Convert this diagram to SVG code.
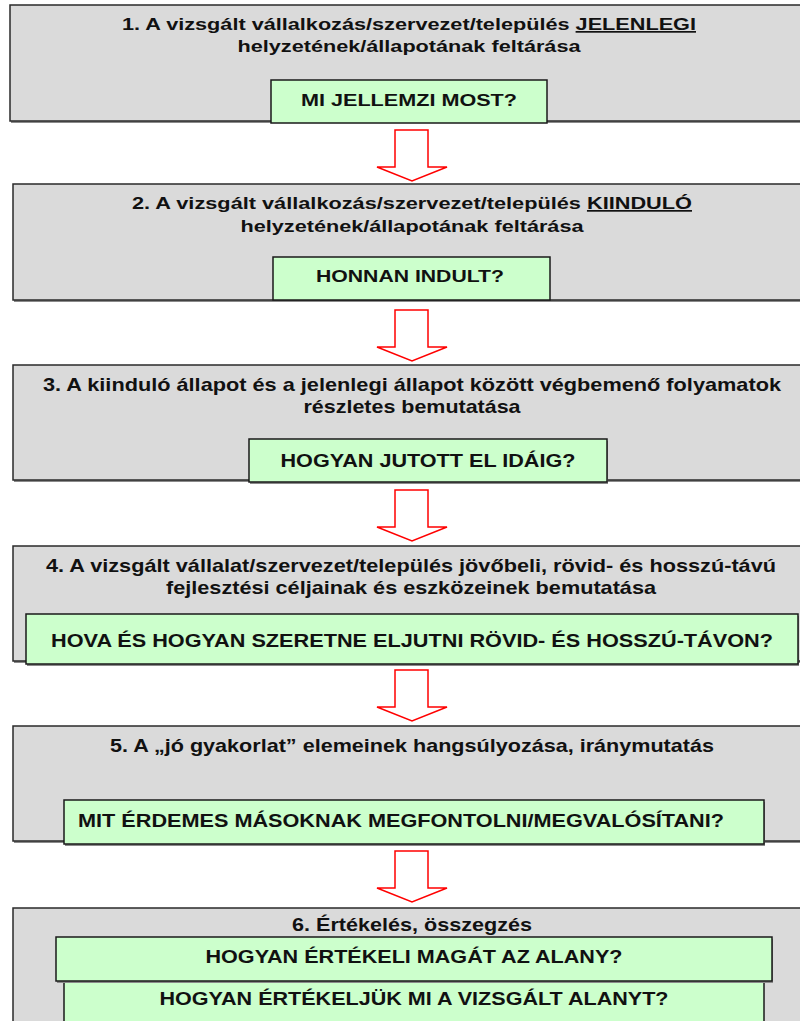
<svg xmlns="http://www.w3.org/2000/svg" width="800" height="1021" viewBox="0 0 800 1021">
  <defs>
    <style>
      .panel { fill: #dadada; stroke: #2a2a2a; stroke-width: 1.5; }
      .shade { fill: #8a8a8a; }
      .q { fill: #ccffcc; stroke: #1a1a1a; stroke-width: 1.5; }
      .arrow { fill: #ffffff; stroke: #ff0000; stroke-width: 1.5; stroke-linejoin: miter; }
      text { font-family: "Liberation Sans", Arial, sans-serif; font-weight: bold; font-size: 17px; fill: #111111; }
      .n { font-size: 18.5px; }
      .c { text-anchor: middle; }
      .u { text-decoration: underline; }
    </style>
    <path id="downArrow" class="arrow" d="M0,0 H33 V37 H52 L17,51 L-18,37 H0 Z"/>
  </defs>

  <rect width="800" height="1021" fill="#ffffff"/>

  <!-- step 1 -->
  <g id="step1">
    <rect class="shade" x="11" y="7" width="800" height="116"/>
    <rect class="panel" x="10" y="5" width="800" height="116"/>
    <text class="c" x="409" y="30" textLength="574" lengthAdjust="spacingAndGlyphs">1. A vizsgált vállalkozás/szervezet/település <tspan class="u">JELENLEGI</tspan></text>
    <text class="c" x="409" y="52" textLength="343" lengthAdjust="spacingAndGlyphs">helyzetének/állapotának feltárása</text>
    <rect class="q" x="271" y="80" width="276" height="43"/>
    <text class="c" x="409" y="106" textLength="216" lengthAdjust="spacingAndGlyphs">MI JELLEMZI MOST?</text>
  </g>

  <!-- step 2 -->
  <g id="step2">
    <rect class="shade" x="14" y="186" width="800" height="116"/>
    <rect class="panel" x="13" y="184" width="800" height="116"/>
    <text class="c" x="412" y="209" textLength="560" lengthAdjust="spacingAndGlyphs">2. A vizsgált vállalkozás/szervezet/település <tspan class="u">KIINDULÓ</tspan></text>
    <text class="c" x="412" y="232" textLength="343" lengthAdjust="spacingAndGlyphs">helyzetének/állapotának feltárása</text>
    <rect class="q" x="273" y="257" width="277" height="43"/>
    <text class="c" x="410" y="282" textLength="188" lengthAdjust="spacingAndGlyphs">HONNAN INDULT?</text>
  </g>

  <!-- step 3 -->
  <g id="step3">
    <rect class="shade" x="14" y="367" width="800" height="115"/>
    <rect class="panel" x="13" y="365" width="800" height="115"/>
    <text class="c n" x="412" y="391" textLength="738" lengthAdjust="spacingAndGlyphs">3. A kiinduló állapot és a jelenlegi állapot között végbemenő folyamatok</text>
    <text class="c n" x="412" y="413" textLength="217" lengthAdjust="spacingAndGlyphs">részletes bemutatása</text>
    <rect class="shade" x="250" y="441" width="358" height="43"/>
    <rect class="q" x="249" y="439" width="358" height="43"/>
    <text class="c n" x="428" y="467" textLength="295" lengthAdjust="spacingAndGlyphs">HOGYAN JUTOTT EL IDÁIG?</text>
  </g>

  <!-- step 4 -->
  <g id="step4">
    <rect class="shade" x="14" y="548" width="800" height="115"/>
    <rect class="panel" x="13" y="546" width="800" height="115"/>
    <text class="c n" x="411" y="572" textLength="730" lengthAdjust="spacingAndGlyphs">4. A vizsgált vállalat/szervezet/település jövőbeli, rövid- és hosszú-távú</text>
    <text class="c n" x="411" y="594" textLength="490" lengthAdjust="spacingAndGlyphs">fejlesztési céljainak és eszközeinek bemutatása</text>
    <rect class="shade" x="27" y="616" width="772" height="50"/>
    <rect class="q" x="26" y="614" width="772" height="50"/>
    <text class="c n" x="412" y="647" textLength="722" lengthAdjust="spacingAndGlyphs">HOVA ÉS HOGYAN SZERETNE ELJUTNI RÖVID- ÉS HOSSZÚ-TÁVON?</text>
  </g>

  <!-- step 5 -->
  <g id="step5">
    <rect class="shade" x="14" y="728" width="800" height="115"/>
    <rect class="panel" x="13" y="726" width="800" height="115"/>
    <text class="c n" x="412" y="752" textLength="604" lengthAdjust="spacingAndGlyphs">5. A „jó gyakorlat” elemeinek hangsúlyozása, iránymutatás</text>
    <rect class="shade" x="65" y="802" width="700" height="44"/>
    <rect class="q" x="64" y="800" width="700" height="44"/>
    <text class="n" x="78" y="827" textLength="646" lengthAdjust="spacingAndGlyphs">MIT ÉRDEMES MÁSOKNAK MEGFONTOLNI/MEGVALÓSÍTANI?</text>
  </g>

  <!-- step 6 -->
  <g id="step6">
    <rect class="shade" x="14" y="910" width="800" height="120"/>
    <rect class="panel" x="13" y="908" width="800" height="120"/>
    <text class="c n" x="412" y="931" textLength="240" lengthAdjust="spacingAndGlyphs">6. Értékelés, összegzés</text>
    <rect class="q" x="64" y="981" width="700" height="50"/>
    <text class="c n" x="414" y="1005" textLength="509" lengthAdjust="spacingAndGlyphs">HOGYAN ÉRTÉKELJÜK MI A VIZSGÁLT ALANYT?</text>
    <rect class="shade" x="57" y="939" width="716" height="44"/>
    <rect class="q" x="56" y="937" width="716" height="44"/>
    <text class="c n" x="414" y="963" textLength="417" lengthAdjust="spacingAndGlyphs">HOGYAN ÉRTÉKELI MAGÁT AZ ALANY?</text>
  </g>

  <!-- connectors: hollow red block arrows between the steps -->
  <g id="connectors">
    <use href="#downArrow" x="395" y="130"/>
    <use href="#downArrow" x="395" y="310"/>
    <use href="#downArrow" x="395" y="490"/>
    <use href="#downArrow" x="395" y="670"/>
    <use href="#downArrow" x="395" y="851"/>
  </g>
</svg>
